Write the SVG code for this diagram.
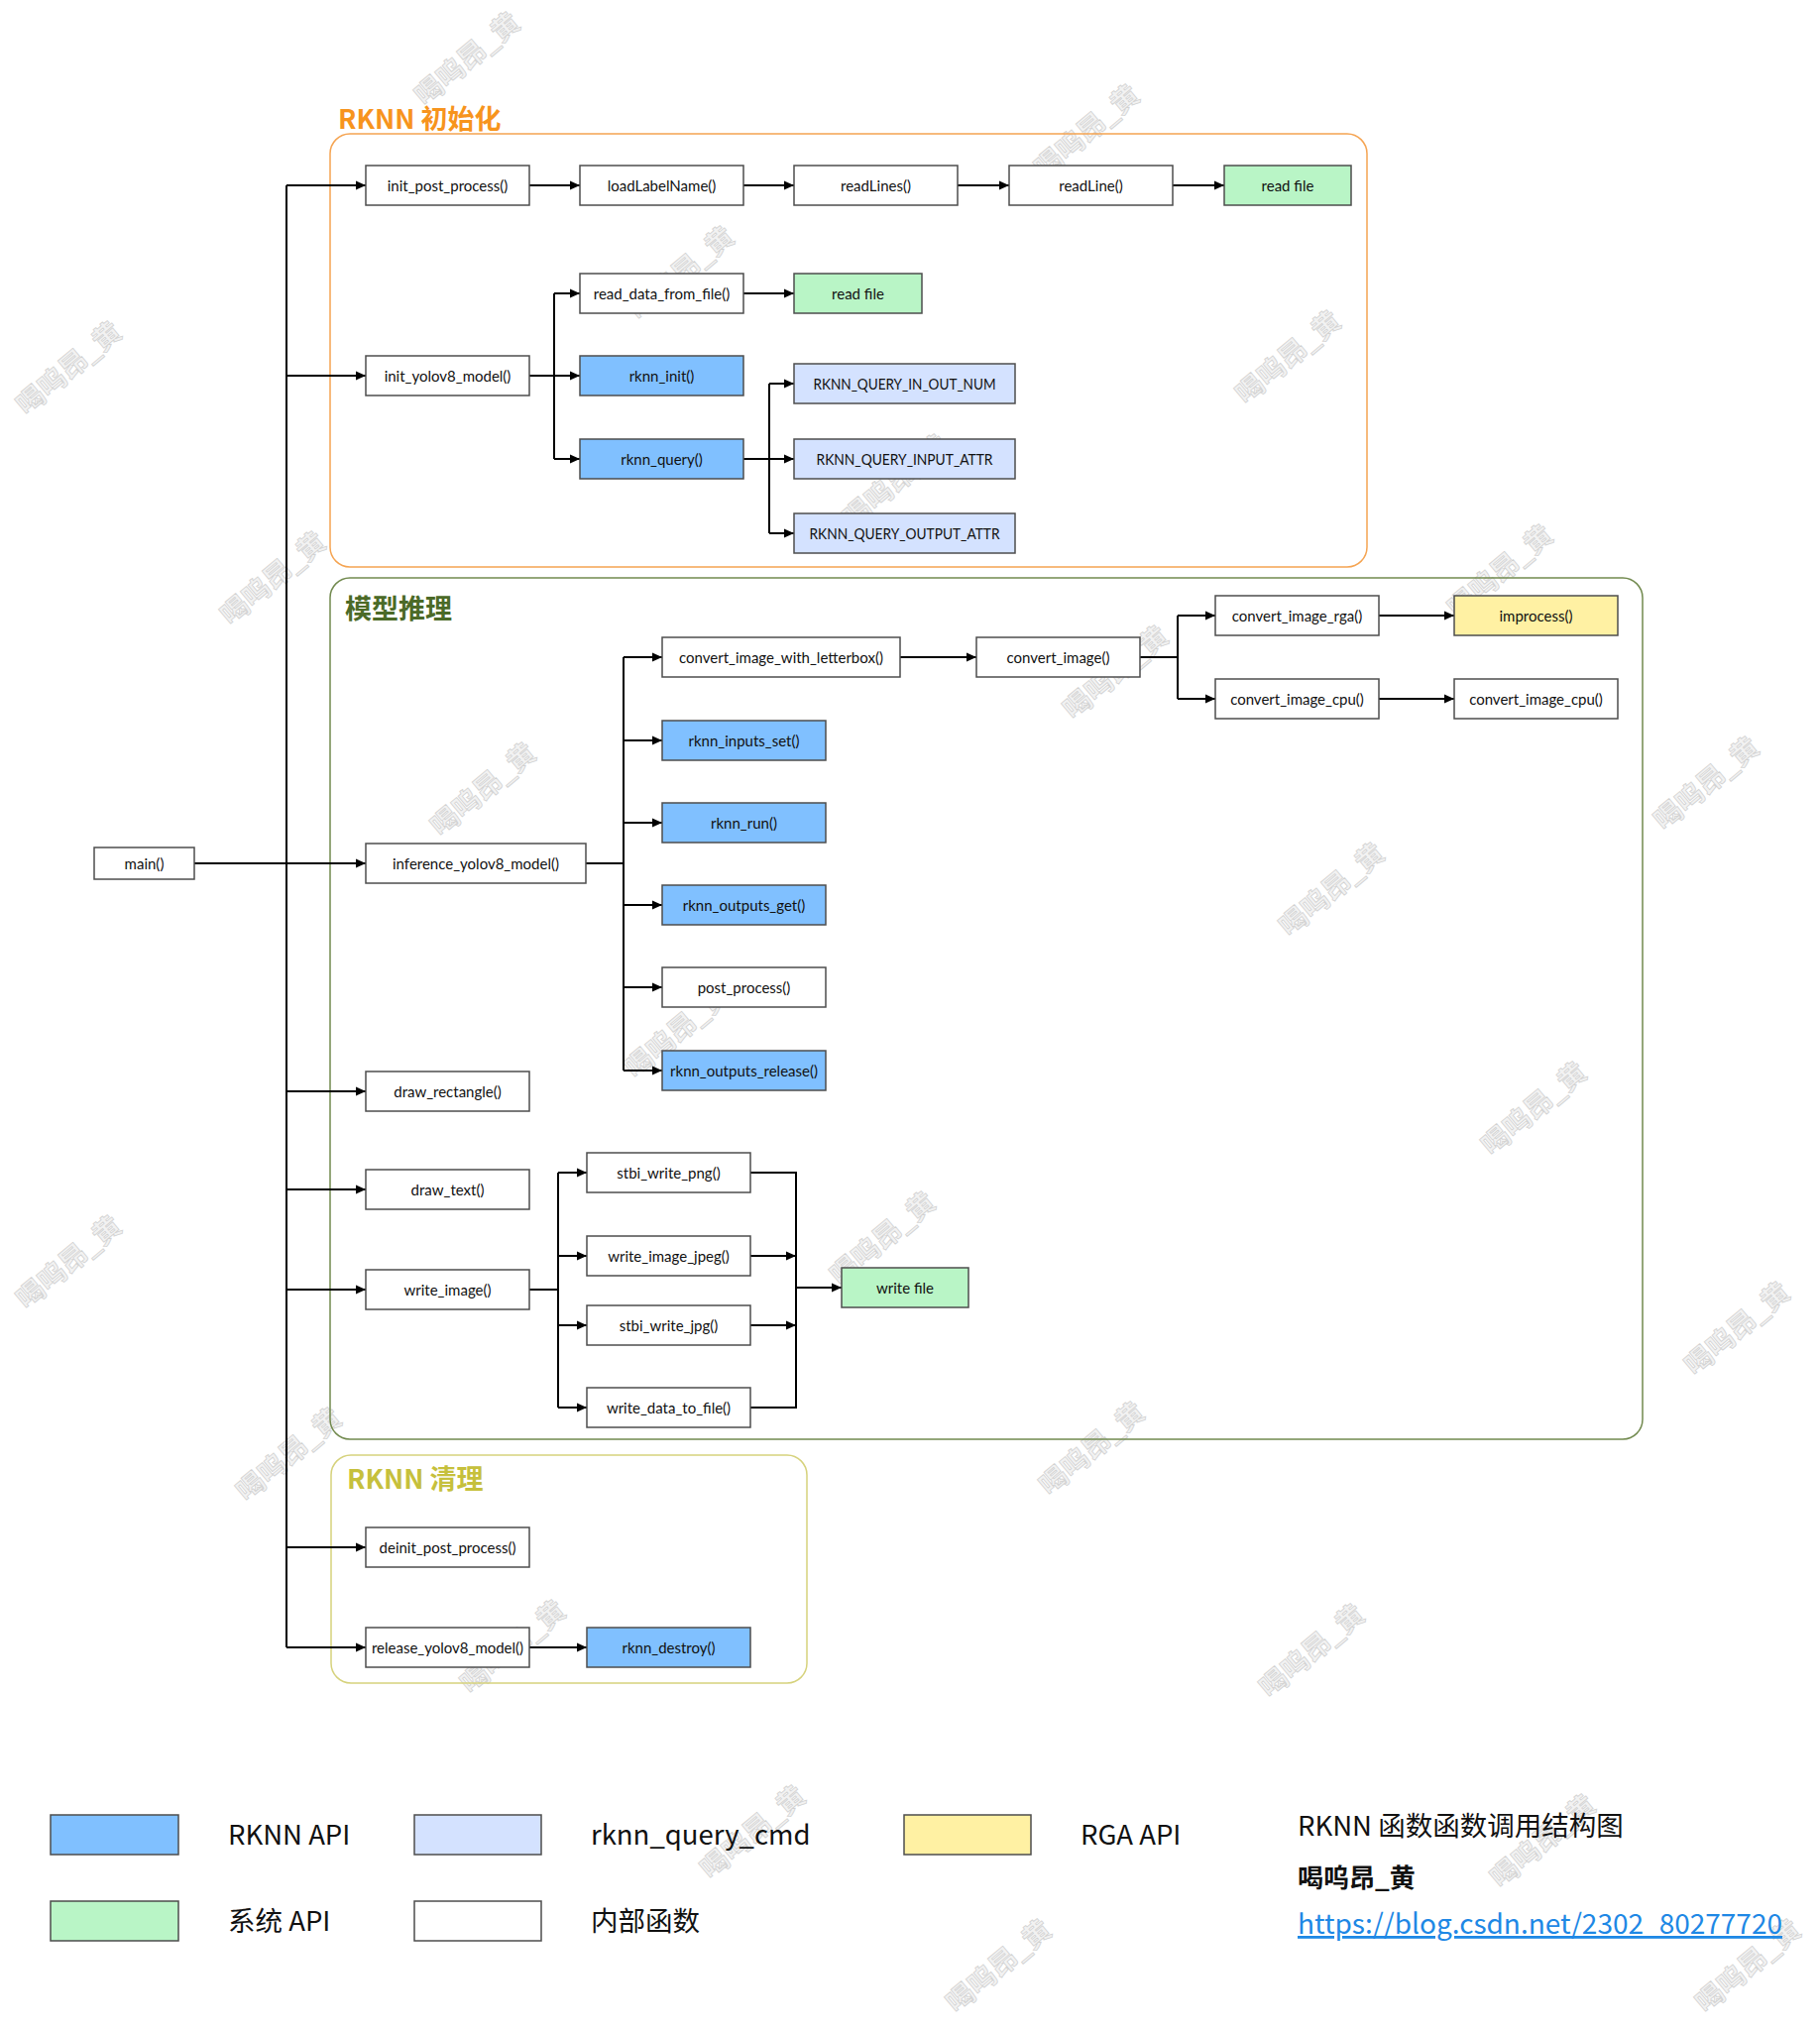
<svg xmlns="http://www.w3.org/2000/svg" width="1836" height="2049" viewBox="0 0 1836 2049">
<defs>
<marker id="arr" viewBox="0 0 10 10" refX="10" refY="5" markerWidth="10" markerHeight="10" markerUnits="userSpaceOnUse" orient="auto">
<path d="M0 0.5 L10 5 L0 9.5 Z" fill="#000"/>
</marker>
</defs>
<style>
.bx{stroke:#4d4d4d;stroke-width:1.5}
.n{fill:#ffffff}
.api{fill:#80c0ff}
.cmd{fill:#d4e2ff}
.sys{fill:#b9f5c6}
.rga{fill:#fff1a3}
.t{font-family:Lato,"Noto Sans","Noto Sans CJK SC",sans-serif;font-size:15px;fill:#111;text-anchor:middle;dominant-baseline:central}
.c{fill:none;stroke:#000;stroke-width:2}
.ca{fill:none;stroke:#000;stroke-width:2;marker-end:url(#arr)}
.grp{fill:none;stroke-width:1.5}
.gt{font-family:"Noto Sans CJK SC","Noto Sans",sans-serif;font-size:27px;font-weight:bold}
.lg{font-family:"Noto Sans CJK SC","Noto Sans",sans-serif;font-size:27.5px;fill:#111}
.rt{font-family:"Noto Sans CJK SC","Noto Sans",sans-serif;font-size:26px;fill:#111}
.wm{font-family:"Noto Sans CJK SC",sans-serif;font-size:28px;font-weight:bold;fill:#f2f2f2;stroke:#d2d2d2;stroke-width:0.8;text-anchor:middle;dominant-baseline:central}
</style>
<rect width="1836" height="2049" fill="#ffffff"/>

<g id="watermarks">
<text class="wm" transform="translate(470,58) rotate(-40)">喝呜昂_黄</text>
<text class="wm" transform="translate(1095,131) rotate(-40)">喝呜昂_黄</text>
<text class="wm" transform="translate(686,274) rotate(-40)">喝呜昂_黄</text>
<text class="wm" transform="translate(68,370) rotate(-40)">喝呜昂_黄</text>
<text class="wm" transform="translate(1298,359) rotate(-40)">喝呜昂_黄</text>
<text class="wm" transform="translate(274,582) rotate(-40)">喝呜昂_黄</text>
<text class="wm" transform="translate(902,484) rotate(-40)">喝呜昂_黄</text>
<text class="wm" transform="translate(1512,575) rotate(-40)">喝呜昂_黄</text>
<text class="wm" transform="translate(1124,677) rotate(-40)">喝呜昂_黄</text>
<text class="wm" transform="translate(486,795) rotate(-40)">喝呜昂_黄</text>
<text class="wm" transform="translate(1720,789) rotate(-40)">喝呜昂_黄</text>
<text class="wm" transform="translate(1342,896) rotate(-40)">喝呜昂_黄</text>
<text class="wm" transform="translate(682,1039) rotate(-40)">喝呜昂_黄</text>
<text class="wm" transform="translate(1546,1117) rotate(-40)">喝呜昂_黄</text>
<text class="wm" transform="translate(889,1248) rotate(-40)">喝呜昂_黄</text>
<text class="wm" transform="translate(68,1272) rotate(-40)">喝呜昂_黄</text>
<text class="wm" transform="translate(1751,1339) rotate(-40)">喝呜昂_黄</text>
<text class="wm" transform="translate(290,1466) rotate(-40)">喝呜昂_黄</text>
<text class="wm" transform="translate(1100,1460) rotate(-40)">喝呜昂_黄</text>
<text class="wm" transform="translate(1322,1664) rotate(-40)">喝呜昂_黄</text>
<text class="wm" transform="translate(516,1660) rotate(-40)">喝呜昂_黄</text>
<text class="wm" transform="translate(758,1847) rotate(-40)">喝呜昂_黄</text>
<text class="wm" transform="translate(1555,1856) rotate(-40)">喝呜昂_黄</text>
<text class="wm" transform="translate(1006,1982) rotate(-40)">喝呜昂_黄</text>
<text class="wm" transform="translate(1762,1982) rotate(-40)">喝呜昂_黄</text>
</g>

<g id="groups">
<g id="grp_init">
<rect class="grp" x="333" y="135" width="1046" height="437" rx="20" stroke="#f5a452"/>
<text class="gt" x="341" y="130" fill="#f7941d">RKNN 初始化</text>
</g>
<g id="grp_infer">
<rect class="grp" x="333" y="583" width="1324" height="869" rx="20" stroke="#728a4f"/>
<text class="gt" x="348" y="624" fill="#4b6a27">模型推理</text>
</g>
<g id="grp_clean">
<rect class="grp" x="334" y="1468" width="480" height="230" rx="20" stroke="#d6d27c"/>
<text class="gt" x="350" y="1502" fill="#c6c03c">RKNN 清理</text>
</g>
</g>

<g id="connectors">
<path class="c" d="M289 187 V1662"/>
<path class="ca" d="M289 187 H369"/>
<path class="ca" d="M289 379 H369"/>
<path class="ca" d="M196 871 H369"/>
<path class="ca" d="M289 1101 H369"/>
<path class="ca" d="M289 1200 H369"/>
<path class="ca" d="M289 1301 H369"/>
<path class="ca" d="M289 1561 H369"/>
<path class="ca" d="M289 1662 H369"/>
<path class="ca" d="M534 187 H585"/>
<path class="ca" d="M750 187 H801"/>
<path class="ca" d="M966 187 H1018"/>
<path class="ca" d="M1183 187 H1235"/>
<path class="c" d="M534 379 H559 M559 296 V463"/>
<path class="ca" d="M559 296 H585"/>
<path class="ca" d="M559 379 H585"/>
<path class="ca" d="M559 463 H585"/>
<path class="ca" d="M750 296 H801"/>
<path class="c" d="M750 463 H776 M776 387 V538"/>
<path class="ca" d="M776 387 H801"/>
<path class="ca" d="M776 463 H801"/>
<path class="ca" d="M776 538 H801"/>
<path class="c" d="M591 871 H629 M629 663 V1080"/>
<path class="ca" d="M629 663 H668"/>
<path class="ca" d="M629 747 H668"/>
<path class="ca" d="M629 830 H668"/>
<path class="ca" d="M629 913 H668"/>
<path class="ca" d="M629 996 H668"/>
<path class="ca" d="M629 1080 H668"/>
<path class="ca" d="M908 663 H985"/>
<path class="c" d="M1150 663 H1188 M1188 621 V705"/>
<path class="ca" d="M1188 621 H1226"/>
<path class="ca" d="M1188 705 H1226"/>
<path class="ca" d="M1391 621 H1467"/>
<path class="ca" d="M1391 705 H1467"/>
<path class="c" d="M534 1301 H563 M563 1183 V1420"/>
<path class="ca" d="M563 1183 H592"/>
<path class="ca" d="M563 1267 H592"/>
<path class="ca" d="M563 1337 H592"/>
<path class="ca" d="M563 1420 H592"/>
<path class="c" d="M757 1183 H803 V1420 H757"/>
<path class="ca" d="M757 1267 H803"/>
<path class="ca" d="M757 1337 H803"/>
<path class="ca" d="M803 1299 H849"/>
<path class="ca" d="M534 1662 H592"/>
</g>

<g id="n_init_post_process"><rect class="bx n" x="369" y="167" width="165" height="40"/><text class="t" x="451.5" y="187">init_post_process()</text></g>
<g id="n_loadLabelName"><rect class="bx n" x="585" y="167" width="165" height="40"/><text class="t" x="667.5" y="187">loadLabelName()</text></g>
<g id="n_readLines"><rect class="bx n" x="801" y="167" width="165" height="40"/><text class="t" x="883.5" y="187">readLines()</text></g>
<g id="n_readLine"><rect class="bx n" x="1018" y="167" width="165" height="40"/><text class="t" x="1100.5" y="187">readLine()</text></g>
<g id="n_read_file_1"><rect class="bx sys" x="1235" y="167" width="128" height="40"/><text class="t" x="1299" y="187">read file</text></g>
<g id="n_read_data_from_file"><rect class="bx n" x="585" y="276" width="165" height="40"/><text class="t" x="667.5" y="296">read_data_from_file()</text></g>
<g id="n_read_file_2"><rect class="bx sys" x="801" y="276" width="129" height="40"/><text class="t" x="865.5" y="296">read file</text></g>
<g id="n_init_yolov8_model"><rect class="bx n" x="369" y="359" width="165" height="40"/><text class="t" x="451.5" y="379">init_yolov8_model()</text></g>
<g id="n_rknn_init"><rect class="bx api" x="585" y="359" width="165" height="40"/><text class="t" x="667.5" y="379">rknn_init()</text></g>
<g id="n_rknn_query"><rect class="bx api" x="585" y="443" width="165" height="40"/><text class="t" x="667.5" y="463">rknn_query()</text></g>
<g id="n_q_in_out_num"><rect class="bx cmd" x="801" y="367" width="223" height="40"/><text class="t" x="912.5" y="387" textLength="184" lengthAdjust="spacingAndGlyphs">RKNN_QUERY_IN_OUT_NUM</text></g>
<g id="n_q_input_attr"><rect class="bx cmd" x="801" y="443" width="223" height="40"/><text class="t" x="912.5" y="463" textLength="178" lengthAdjust="spacingAndGlyphs">RKNN_QUERY_INPUT_ATTR</text></g>
<g id="n_q_output_attr"><rect class="bx cmd" x="801" y="518" width="223" height="40"/><text class="t" x="912.5" y="538" textLength="192" lengthAdjust="spacingAndGlyphs">RKNN_QUERY_OUTPUT_ATTR</text></g>

<g id="n_main"><rect class="bx n" x="95" y="855" width="101" height="32"/><text class="t" x="145.5" y="871">main()</text></g>
<g id="n_inference_yolov8_model"><rect class="bx n" x="369" y="851" width="222" height="40"/><text class="t" x="480" y="871">inference_yolov8_model()</text></g>
<g id="n_convert_image_with_letterbox"><rect class="bx n" x="668" y="643" width="240" height="40"/><text class="t" x="788" y="663">convert_image_with_letterbox()</text></g>
<g id="n_convert_image"><rect class="bx n" x="985" y="643" width="165" height="40"/><text class="t" x="1067.5" y="663">convert_image()</text></g>
<g id="n_convert_image_rga"><rect class="bx n" x="1226" y="601" width="165" height="40"/><text class="t" x="1308.5" y="621">convert_image_rga()</text></g>
<g id="n_improcess"><rect class="bx rga" x="1467" y="601" width="165" height="40"/><text class="t" x="1549.5" y="621">improcess()</text></g>
<g id="n_convert_image_cpu_1"><rect class="bx n" x="1226" y="685" width="165" height="40"/><text class="t" x="1308.5" y="705">convert_image_cpu()</text></g>
<g id="n_convert_image_cpu_2"><rect class="bx n" x="1467" y="685" width="165" height="40"/><text class="t" x="1549.5" y="705">convert_image_cpu()</text></g>
<g id="n_rknn_inputs_set"><rect class="bx api" x="668" y="727" width="165" height="40"/><text class="t" x="750.5" y="747">rknn_inputs_set()</text></g>
<g id="n_rknn_run"><rect class="bx api" x="668" y="810" width="165" height="40"/><text class="t" x="750.5" y="830">rknn_run()</text></g>
<g id="n_rknn_outputs_get"><rect class="bx api" x="668" y="893" width="165" height="40"/><text class="t" x="750.5" y="913">rknn_outputs_get()</text></g>
<g id="n_post_process"><rect class="bx n" x="668" y="976" width="165" height="40"/><text class="t" x="750.5" y="996">post_process()</text></g>
<g id="n_rknn_outputs_release"><rect class="bx api" x="668" y="1060" width="165" height="40"/><text class="t" x="750.5" y="1080">rknn_outputs_release()</text></g>
<g id="n_draw_rectangle"><rect class="bx n" x="369" y="1081" width="165" height="40"/><text class="t" x="451.5" y="1101">draw_rectangle()</text></g>
<g id="n_draw_text"><rect class="bx n" x="369" y="1180" width="165" height="40"/><text class="t" x="451.5" y="1200">draw_text()</text></g>
<g id="n_write_image"><rect class="bx n" x="369" y="1281" width="165" height="40"/><text class="t" x="451.5" y="1301">write_image()</text></g>
<g id="n_stbi_write_png"><rect class="bx n" x="592" y="1163" width="165" height="40"/><text class="t" x="674.5" y="1183">stbi_write_png()</text></g>
<g id="n_write_image_jpeg"><rect class="bx n" x="592" y="1247" width="165" height="40"/><text class="t" x="674.5" y="1267">write_image_jpeg()</text></g>
<g id="n_stbi_write_jpg"><rect class="bx n" x="592" y="1317" width="165" height="40"/><text class="t" x="674.5" y="1337">stbi_write_jpg()</text></g>
<g id="n_write_data_to_file"><rect class="bx n" x="592" y="1400" width="165" height="40"/><text class="t" x="674.5" y="1420">write_data_to_file()</text></g>
<g id="n_write_file"><rect class="bx sys" x="849" y="1279" width="128" height="40"/><text class="t" x="913" y="1299">write file</text></g>

<g id="n_deinit_post_process"><rect class="bx n" x="369" y="1541" width="165" height="40"/><text class="t" x="451.5" y="1561">deinit_post_process()</text></g>
<g id="n_release_yolov8_model"><rect class="bx n" x="369" y="1642" width="165" height="40"/><text class="t" x="451.5" y="1662">release_yolov8_model()</text></g>
<g id="n_rknn_destroy"><rect class="bx api" x="592" y="1642" width="165" height="40"/><text class="t" x="674.5" y="1662">rknn_destroy()</text></g>

<g id="legend">
<rect class="bx api" x="51" y="1831" width="129" height="40"/>
<text class="lg" x="230" y="1861">RKNN API</text>
<rect class="bx cmd" x="418" y="1831" width="128" height="40"/>
<text class="lg" x="596" y="1861">rknn_query_cmd</text>
<rect class="bx rga" x="912" y="1831" width="128" height="40"/>
<text class="lg" x="1090" y="1861">RGA API</text>
<rect class="bx sys" x="51" y="1918" width="129" height="40"/>
<text class="lg" x="230" y="1948">系统 API</text>
<rect class="bx n" x="418" y="1918" width="128" height="40"/>
<text class="lg" x="596" y="1948">内部函数</text>
<text class="rt" x="1309" y="1852" style="font-size:27.5px">RKNN 函数函数调用结构图</text>
<text class="rt" x="1309" y="1904" font-weight="bold">喝呜昂_黄</text>
<text class="rt" x="1309" y="1951" style="fill:#1e88e5;font-size:28px" text-decoration="underline">https://blog.csdn.net/2302_80277720</text>
</g>
</svg>
